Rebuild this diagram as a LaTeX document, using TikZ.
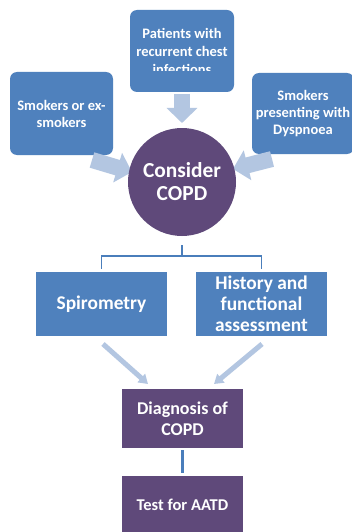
\documentclass[tikz,border=0pt]{standalone}
\usepackage{fontspec}
\setmainfont{Carlito}
\usetikzlibrary{arrows.meta}
\definecolor{boxblue}{HTML}{4F81BD}
\definecolor{arrowblue}{HTML}{B3C6E1}
\definecolor{copdpurple}{HTML}{5F497A}
\definecolor{linkblue}{HTML}{4A7EBB}
\begin{document}
\begin{tikzpicture}[x=1pt,y=-1pt,
  bluebox/.style={fill=boxblue,inner sep=0pt,outer sep=0pt,anchor=north west},
  purplebox/.style={fill=copdpurple,inner sep=0pt,outer sep=0pt,anchor=north west},
  smalltext/.style={text=white,font=\bfseries\fontsize{14.5}{17}\selectfont,align=center},
  midtext/.style={text=white,font=\bfseries\fontsize{19.4}{21}\selectfont,align=center},
  bigtext/.style={text=white,font=\bfseries\fontsize{21.4}{23}\selectfont,align=center},
  fatarrow/.style={draw=arrowblue,line width=16pt,-{Triangle[width=30pt,length=15pt]}},
  thinarrow/.style={draw=arrowblue,line width=5pt,-{Triangle[width=11pt,length=9pt]}},
  linkline/.style={draw=linkblue,line width=1.5pt},
]
\clip (0,0) rectangle (352,532);
\fill[white] (0,0) rectangle (352,532);

% top row boxes
\node[bluebox,rounded corners=7pt,minimum width=104pt,minimum height=82pt] (top) at (130,10) {};
\begin{scope}
  \clip (130,10) rectangle (234,71);
  \node[smalltext,font=\bfseries\fontsize{14.5}{18}\selectfont] (toptext) at (182,51) {Patients with\\recurrent chest\\infections};
\end{scope}
\node[bluebox,rounded corners=7pt,minimum width=103pt,minimum height=83pt,smalltext] (left) at (10,72) {Smokers or ex-\\smokers};
\node[bluebox,rounded corners=7pt,minimum width=102pt,minimum height=81pt,smalltext] (right) at (252,73) {Smokers\\presenting with\\Dyspnoea};

% block arrows into the circle
\coordinate (ta) at (182,94);
\coordinate (tb) at (182,123);
\coordinate (la) at (92,160);
\coordinate (lb) at (132,172);
\coordinate (ra) at (272,159);
\coordinate (rb) at (233,169);
\draw[fatarrow] (ta) -- (tb);
\draw[fatarrow] (la) -- (lb);
\draw[fatarrow] (ra) -- (rb);

% circle
\node[circle,fill=copdpurple,minimum size=108pt,inner sep=0pt,bigtext] (consider) at (182,182) {Consider\\COPD};

% branch connector
\coordinate (j0) at (182,245);
\coordinate (j1) at (182,256);
\node[bluebox,minimum width=131pt,minimum height=64pt,midtext] (spiro) at (36,272) {Spirometry};
\node[bluebox,minimum width=131pt,minimum height=64pt,midtext] (history) at (196,272) {History and\\functional\\assessment};
\draw[linkline] (j0) -- (j1);
\draw[linkline,shorten >=3pt] (j1) -| (spiro.north);
\draw[linkline,shorten >=3pt] (j1) -| (history.north);

% thin arrows to diagnosis
\coordinate (sa) at (103,344);
\coordinate (sb) at (148,384);
\coordinate (ha) at (262,344);
\coordinate (hb) at (214,384);
\draw[thinarrow] (sa) -- (sb);
\draw[thinarrow] (ha) -- (hb);

\node[purplebox,minimum width=121pt,minimum height=59pt,midtext,font=\bfseries\fontsize{18}{21}\selectfont] (diag) at (122,389) {Diagnosis of\\COPD};
\node[purplebox,minimum width=121pt,minimum height=58pt,midtext,font=\bfseries\fontsize{16.5}{21}\selectfont] (test) at (122,476) {Test for AATD};
\draw[draw=linkblue,line width=2.5pt,shorten <=2pt,shorten >=3pt] (diag.south) -- (test.north);
\end{tikzpicture}
\end{document}
